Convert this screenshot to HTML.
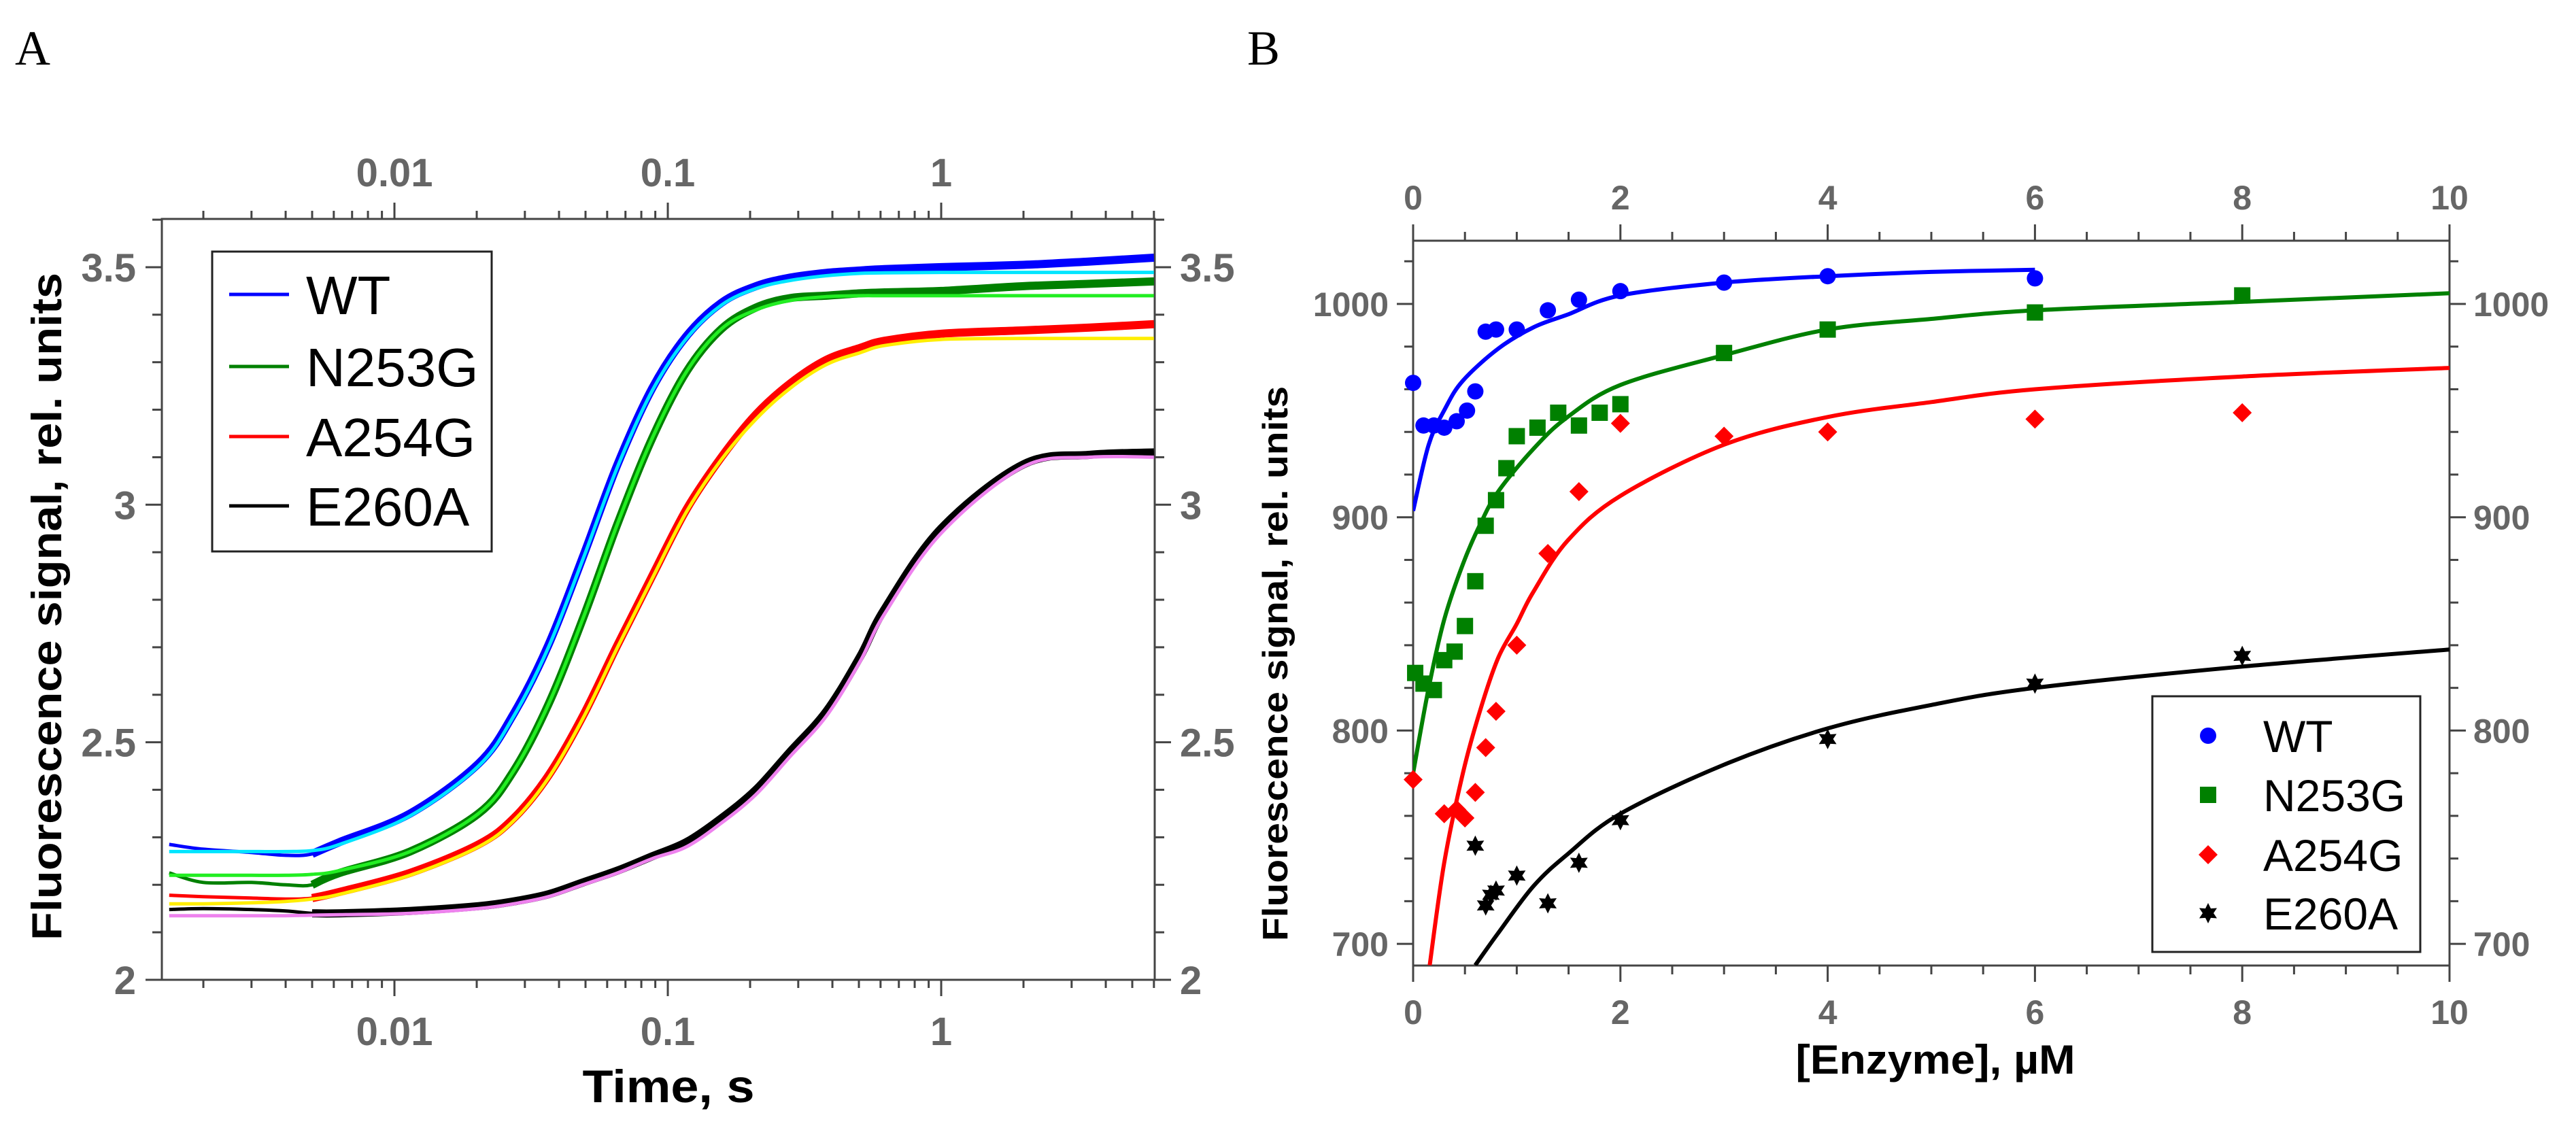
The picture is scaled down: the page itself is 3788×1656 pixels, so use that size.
<!DOCTYPE html>
<html><head><meta charset="utf-8"><style>
html,body{margin:0;padding:0;background:#fff;}
svg{display:block;}
.tk{font-family:"Liberation Sans",sans-serif;font-weight:bold;fill:#666;}
.ttl{font-family:"Liberation Sans",sans-serif;font-weight:bold;fill:#000;}
.lg{font-family:"Liberation Sans",sans-serif;fill:#000;}
</style></head><body>
<svg id="fig" width="3788" height="1656" viewBox="0 0 3788 1656" xmlns="http://www.w3.org/2000/svg">
<text x="22" y="95" font-family="Liberation Serif, serif" font-size="72">A</text>
<text x="1834" y="95" font-family="Liberation Serif, serif" font-size="72">B</text>
<g id="pa"></g>
<g id="pb"></g>
</svg>
<script>
// ---------- Panel A data ----------
const timeS = [0.0015,0.002,0.003,0.004,0.005,0.0063,0.0114,0.0203,0.0273,0.0366,0.0489,0.0655,0.0877,0.117,0.157,0.21,0.28,0.38,0.505,0.62,1,2,3.5,6];
const wtFit = [2.27,2.27,2.27,2.27,2.272,2.285,2.345,2.45,2.555,2.70,2.885,3.08,3.24,3.35,3.42,3.455,3.472,3.482,3.487,3.488,3.489,3.489,3.489,3.489];
const wtData = [2.285,2.275,2.268,2.262,2.265,2.29,2.35,2.455,2.56,2.705,2.89,3.085,3.245,3.355,3.425,3.46,3.478,3.488,3.493,3.496,3.50,3.505,3.512,3.52];
const n253gFit = [2.22,2.22,2.22,2.22,2.222,2.23,2.27,2.35,2.44,2.58,2.76,2.96,3.14,3.28,3.37,3.41,3.43,3.438,3.44,3.44,3.44,3.44,3.44,3.44];
const n253gData = [2.225,2.205,2.205,2.20,2.20,2.225,2.27,2.35,2.44,2.58,2.76,2.96,3.14,3.28,3.37,3.415,3.435,3.44,3.445,3.447,3.45,3.46,3.465,3.47];
const a254gFit = [2.16,2.16,2.162,2.165,2.17,2.18,2.22,2.28,2.335,2.425,2.55,2.70,2.845,2.985,3.095,3.18,3.245,3.295,3.32,3.335,3.348,3.35,3.35,3.35];
const a254gData = [2.178,2.175,2.172,2.17,2.172,2.185,2.225,2.285,2.34,2.43,2.555,2.705,2.85,2.99,3.10,3.19,3.255,3.305,3.33,3.345,3.36,3.367,3.373,3.38];
const e260aFit = [2.135,2.135,2.135,2.135,2.136,2.137,2.14,2.15,2.16,2.175,2.20,2.225,2.255,2.28,2.33,2.39,2.47,2.555,2.67,2.77,2.94,3.08,3.10,3.10];
const e260aData = [2.148,2.15,2.148,2.145,2.14,2.14,2.145,2.155,2.165,2.18,2.205,2.23,2.26,2.29,2.34,2.40,2.48,2.565,2.68,2.78,2.95,3.085,3.105,3.11];
const aYTicks = [2,2.5,3,3.5];
const aYTickLabels = ["2","2.5","3","3.5"];
const aXTicks = [0.01,0.1,1];
const aXTickLabels = ["0.01","0.1","1"];
const aSeriesNames = ["WT","N253G","A254G","E260A"];

// ---------- Panel B data ----------
const wtX = [0,0.1,0.2,0.3,0.42,0.52,0.6,0.7,0.8,1.0,1.3,1.6,2,3,4,6];
const wtY = [963,943,943,942,945,950,959,987,988,988,997,1002,1006,1010,1013,1012];
const n253gX = [0.02,0.1,0.2,0.3,0.4,0.5,0.6,0.7,0.8,0.9,1.0,1.2,1.4,1.6,1.8,2.0,3,4,6,8];
const n253gY = [827,822,819,833,837,849,870,896,908,923,938,942,949,943,949,953,977,988,996,1004];
const a254gX = [0,0.3,0.42,0.5,0.6,0.7,0.8,1.0,1.3,1.6,2,3,4,6,8];
const a254gY = [777,761,763,759,771,792,809,840,883,912,944,938,940,946,949];
const e260aX = [0.6,0.7,0.75,0.8,1.0,1.3,1.6,2,4,6,8];
const e260aY = [746,718,723,725,732,719,738,758,796,822,835];
const wtFitX = [0,0.15,0.31,0.48,0.82,1.16,1.49,2,3,4,5,6];
const wtFitY = [903,934,951,964,979,989,995,1004,1010,1013,1015,1016];
const n253gFitX = [0,0.15,0.3,0.48,0.65,0.82,1.16,1.49,2,3,4,5,6,8,10];
const n253gFitY = [780,820,852,878,897,912,932,947,962,976,988,993,997,1001,1005];
const a254gFitX = [0.16,0.3,0.48,0.65,0.82,1.0,1.16,1.49,2,3,4,5,6,8,10];
const a254gFitY = [690,738,780,810,834,850,865,889,910,934,947,954,960,966,970];
const e260aFitX = [0.6,0.82,1.16,1.49,2,3,4,5,6,8,10];
const e260aFitY = [690,705,727,742,761,784,801,812,820,830,838];
const bXTicks = [0,2,4,6,8,10];
const bXTickLabels = ["0","2","4","6","8","10"];
const bYTicks = [700,800,900,1000];
const bYTickLabels = ["700","800","900","1000"];

const NS = "http://www.w3.org/2000/svg";
function mk(parent, tag, attrs, text){
  const e = document.createElementNS(NS, tag);
  for (const k in attrs) e.setAttribute(k, attrs[k]);
  if (text !== undefined) e.textContent = text;
  parent.appendChild(e);
  return e;
}
function smoothPath(pts){
  let d = "M" + pts[0][0].toFixed(1) + "," + pts[0][1].toFixed(1);
  for (let i = 0; i < pts.length - 1; i++){
    const p0 = pts[Math.max(0,i-1)], p1 = pts[i], p2 = pts[i+1], p3 = pts[Math.min(pts.length-1,i+2)];
    const c1x = p1[0] + (p2[0]-p0[0])/6, c1y = p1[1] + (p2[1]-p0[1])/6;
    const c2x = p2[0] - (p3[0]-p1[0])/6, c2y = p2[1] - (p3[1]-p1[1])/6;
    d += " C" + c1x.toFixed(1) + "," + c1y.toFixed(1) + " " + c2x.toFixed(1) + "," + c2y.toFixed(1) + " " + p2[0].toFixed(1) + "," + p2[1].toFixed(1);
  }
  return d;
}

// ================= Panel A =================
(function(){
  const g = document.getElementById("pa");
  const L = 238, R = 1698, T = 322, B = 1441;
  const lmin = Math.log10(0.00141), lmax = Math.log10(6.04);
  const xs = t => L + (Math.log10(t) - lmin) / (lmax - lmin) * (R - L);
  const ys = v => B - (v - 2) * 698.7;
  let e;
  e = mk(g, "rect", {x:L, y:T, width:R-L, height:B-T, fill:"none", stroke:"#444", "stroke-width":3});
  
  
  for (let dec = -3; dec <= 0; dec++){
    for (let m = 1; m <= 9; m++){
      const t = m * Math.pow(10, dec);
      if (t < 0.00141 || t > 6.04) continue;
      const x = xs(t), len = (m === 1) ? 24 : 12;
      e = mk(g, "line", {x1:x, x2:x, y1:B, y2:B+len, stroke:"#444", "stroke-width":3});
      
      
      e = mk(g, "line", {x1:x, x2:x, y1:T, y2:T-len, stroke:"#444", "stroke-width":3});
      
      
    }
  }
  aXTicks.forEach((t, i) => {
    e = mk(g, "text", {x:xs(t), y:1537, "text-anchor":"middle", "font-size":58, class:"tk"}, aXTickLabels[i]);
    
    
    e = mk(g, "text", {x:xs(t), y:274, "text-anchor":"middle", "font-size":58, class:"tk"}, aXTickLabels[i]);
    
    
  });
  for (let k = 0; k <= 16; k++){
    const v = 2 + k * 0.1;
    if (v > 3.6) break;
    const y = ys(v), major = (k % 5 === 0), len = major ? 24 : 14;
    e = mk(g, "line", {x1:L, x2:L-len, y1:y, y2:y, stroke:"#444", "stroke-width":3});
    
    
    e = mk(g, "line", {x1:R, x2:R+len, y1:y, y2:y, stroke:"#444", "stroke-width":3});
    
    
  }
  aYTicks.forEach((v, i) => {
    e = mk(g, "text", {x:200, y:ys(v)+21, "text-anchor":"end", "font-size":58, class:"tk"}, aYTickLabels[i]);
    
    
    e = mk(g, "text", {x:1735, y:ys(v)+21, "text-anchor":"start", "font-size":58, class:"tk"}, aYTickLabels[i]);
    
    
  });
  const dataSets = [wtData, n253gData, a254gData, e260aData];
  const fitSets = [wtFit, n253gFit, a254gFit, e260aFit];
  const dataCol = ["#0000ff","#008000","#ff0000","#000000"];
  const fitCol = ["#00e5ff","#22ee22","#ffee00","#ee82ee"];
  const names = ["wt","n253g","a254g","e260a"];
  const clip = mk(g, "clipPath", {id:"clipA"});
  mk(clip, "rect", {x:L, y:T, width:R-L, height:B-T});
  dataSets.forEach((arr, s) => {
    const pts = timeS.map((t, i) => [xs(t), ys(arr[i])]);
    e = mk(g, "path", {d:smoothPath(pts), fill:"none", stroke:dataCol[s], "stroke-width":5, "clip-path":"url(#clipA)", "stroke-linejoin":"round"});
    
    
    const pts2 = pts.filter((p, i) => timeS[i] >= 0.005);
    e = mk(g, "path", {d:smoothPath(pts2), fill:"none", stroke:dataCol[s], "stroke-width":12, "clip-path":"url(#clipA)", "stroke-linejoin":"round"});
    
    
  });
  fitSets.forEach((arr, s) => {
    const pts = timeS.map((t, i) => [xs(t), ys(arr[i])]);
    e = mk(g, "path", {d:smoothPath(pts), fill:"none", stroke:fitCol[s], "stroke-width":5, "clip-path":"url(#clipA)"});
    
    
  });
  const lg = mk(g, "g", {});
  
  
  mk(lg, "rect", {x:312, y:370, width:411, height:441, fill:"#fff", stroke:"#222", "stroke-width":3});
  const rowsY = [433, 539, 642, 744];
  aSeriesNames.forEach((n, i) => {
    const en = mk(lg, "g", {});
    
    
    mk(en, "line", {x1:337, x2:425, y1:rowsY[i], y2:rowsY[i], stroke:dataCol[i], "stroke-width":5});
    mk(en, "text", {x:450, y:rowsY[i]+29, "font-size":80, class:"lg"}, n);
  });
  e = mk(g, "text", {x:0, y:0, "text-anchor":"middle", "font-size":62, class:"ttl", transform:"translate(90,892) rotate(-90)", textLength:982, lengthAdjust:"spacingAndGlyphs"}, "Fluorescence signal, rel. units");
  
  
  e = mk(g, "text", {x:983, y:1621, "text-anchor":"middle", "font-size":68, class:"ttl", textLength:253, lengthAdjust:"spacingAndGlyphs"}, "Time, s");
  
  
})();

// ================= Panel B =================
(function(){
  const g = document.getElementById("pb");
  const L = 2078, R = 3602, T = 354, B = 1420;
  const xs = v => L + v / 10 * (R - L);
  const ys = v => 447 - (v - 1000) * 3.137;
  let e;
  e = mk(g, "rect", {x:L, y:T, width:R-L, height:B-T, fill:"none", stroke:"#444", "stroke-width":3});
  
  
  for (let k = 0; k <= 20; k++){
    const x = xs(k * 0.5), len = (k % 4 === 0) ? 24 : 13;
    e = mk(g, "line", {x1:x, x2:x, y1:B, y2:B+len, stroke:"#444", "stroke-width":3});
    
    
    e = mk(g, "line", {x1:x, x2:x, y1:T, y2:T-len, stroke:"#444", "stroke-width":3});
    
    
  }
  bXTicks.forEach((v, i) => {
    e = mk(g, "text", {x:xs(v), y:1506, "text-anchor":"middle", "font-size":50, class:"tk"}, bXTickLabels[i]);
    
    
    e = mk(g, "text", {x:xs(v), y:308, "text-anchor":"middle", "font-size":50, class:"tk"}, bXTickLabels[i]);
    
    
  });
  for (let v = 700; v <= 1020; v += 20){
    const y = ys(v), len = (v % 100 === 0) ? 24 : 13;
    e = mk(g, "line", {x1:L, x2:L-len, y1:y, y2:y, stroke:"#444", "stroke-width":3});
    
    
    e = mk(g, "line", {x1:R, x2:R+len, y1:y, y2:y, stroke:"#444", "stroke-width":3});
    
    
  }
  bYTicks.forEach((v, i) => {
    e = mk(g, "text", {x:2042, y:ys(v)+18, "text-anchor":"end", "font-size":50, class:"tk"}, bYTickLabels[i]);
    
    
    e = mk(g, "text", {x:3637, y:ys(v)+18, "text-anchor":"start", "font-size":50, class:"tk"}, bYTickLabels[i]);
    
    
  });
  const clip = mk(g, "clipPath", {id:"clipB"});
  mk(clip, "rect", {x:L, y:T, width:R-L, height:B-T});
  const fits = [[wtFitX, wtFitY, "#0000ff", "wt"], [n253gFitX, n253gFitY, "#008000", "n253g"], [a254gFitX, a254gFitY, "#ff0000", "a254g"], [e260aFitX, e260aFitY, "#000000", "e260a"]];
  fits.forEach(f => {
    const pts = f[0].map((x, i) => [xs(x), ys(f[1][i])]);
    e = mk(g, "path", {d:smoothPath(pts), fill:"none", stroke:f[2], "stroke-width":6, "clip-path":"url(#clipB)"});
    
    
  });
  function marker(parent, type, cx, cy, col){
    if (type === "circle") return mk(parent, "circle", {cx:cx, cy:cy, r:12, fill:col});
    if (type === "square") return mk(parent, "rect", {x:cx-12, y:cy-12, width:24, height:24, fill:col});
    if (type === "diamond") return mk(parent, "polygon", {points:`${cx},${cy-14} ${cx+14},${cy} ${cx},${cy+14} ${cx-14},${cy}`, fill:col});
    const p = [];
    for (let k = 0; k < 12; k++){
      const a = -Math.PI/2 + k * Math.PI/6, r = (k % 2 === 0) ? 15 : 8;
      p.push((cx + r*Math.cos(a)).toFixed(1) + "," + (cy + r*Math.sin(a)).toFixed(1));
    }
    return mk(parent, "polygon", {points:p.join(" "), fill:col});
  }
  const sets = [[wtX, wtY, "circle", "#0000ff", "wt"], [n253gX, n253gY, "square", "#008000", "n253g"], [a254gX, a254gY, "diamond", "#ff0000", "a254g"], [e260aX, e260aY, "star", "#000000", "e260a"]];
  sets.forEach(s => {
    s[0].forEach((x, i) => {
      e = marker(g, s[2], xs(x), ys(s[1][i]), s[3]);
      
      
    });
  });
  const lg = mk(g, "g", {});
  
  
  mk(lg, "rect", {x:3165, y:1024, width:394, height:376, fill:"#fff", stroke:"#222", "stroke-width":3});
  const rowsY = [1082, 1169, 1257, 1343];
  sets.forEach((s, i) => {
    const en = mk(lg, "g", {});
    
    
    marker(en, s[2], 3247, rowsY[i], s[3]);
    mk(en, "text", {x:3328, y:rowsY[i]+24, "font-size":66, class:"lg"}, aSeriesNames[i]);
  });
  e = mk(g, "text", {x:0, y:0, "text-anchor":"middle", "font-size":52, class:"ttl", transform:"translate(1893,976) rotate(-90)", textLength:816, lengthAdjust:"spacingAndGlyphs"}, "Fluorescence signal, rel. units");
  
  
  e = mk(g, "text", {x:2846, y:1579, "text-anchor":"middle", "font-size":60, class:"ttl", textLength:411, lengthAdjust:"spacingAndGlyphs"}, "[Enzyme], µM");
  
  
})();
</script>
</body></html>
